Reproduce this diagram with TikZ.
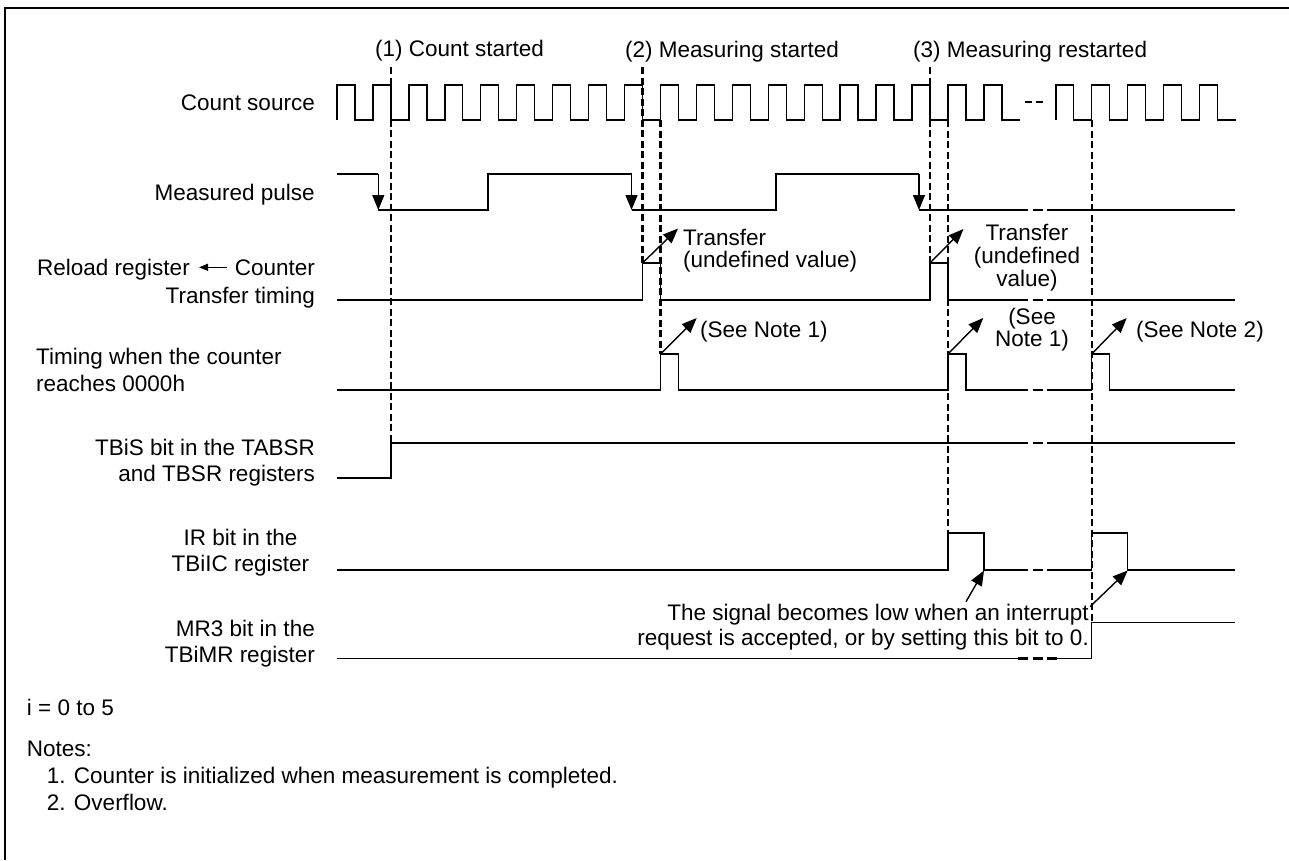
\documentclass[tikz,border=0pt]{standalone}
\usepackage{fontspec}
\setmainfont{Liberation Sans}
\usetikzlibrary{arrows.meta}
\begin{document}
\begin{tikzpicture}[x=1pt,y=-1pt,
  sig/.style={line width=1.4pt, line join=miter},
  vdash/.style={line width=2.3pt, dash pattern=on 7pt off 3.5pt},
  gapdash/.style={line width=2.6pt, dash pattern=on 10pt off 4.5pt},
  arr/.style={line width=1.4pt, -{Triangle[length=15pt,width=12pt]}},
  smallarr/.style={line width=1.3pt, -{Triangle[length=9pt,width=7pt]}},
  lbl/.style={inner sep=0pt, font=\fontsize{22.5pt}{27pt}\selectfont},
]
\def\H{17.97}
\useasboundingbox (0,0) rectangle (1289,860);
\fill[white] (0,0) rectangle (1289,860);
\draw[line width=2pt] (5,860) -- (5,8) -- (1289,8);

% ---- row labels
\node[lbl, anchor=base east] (lcs) at (315,110.5) {Count source};
\node[lbl, anchor=base east] (lmp) at (315,200.5) {Measured pulse};
\node[lbl, anchor=base east] (lrc) at (315,275.5) {Counter};
\node[lbl, anchor=base east] (lrl) at (190,275.5) {Reload register};
\coordinate (la1) at (227,267.3);
\coordinate (la2) at (199,267.3);
\draw[smallarr] (la1) -- (la2);
\node[lbl, anchor=base east] (ltt) at (315,303) {Transfer timing};
\node[lbl, anchor=base west] (ltw) at (36,364) {Timing when the counter};
\node[lbl, anchor=base west] (lrz) at (36,391.5) {reaches 0000h};
\node[lbl, anchor=base east] (lts) at (315,455) {TBiS bit in the TABSR};
\node[lbl, anchor=base east] (ltb) at (315,481.5) {and TBSR registers};
\node[lbl, anchor=base] (lir) at (240.5,545) {IR bit in the};
\node[lbl, anchor=base] (lic) at (240.5,571.7) {TBiIC register};
\node[lbl, anchor=base east] (lmr) at (315,636.7) {MR3 bit in the};
\node[lbl, anchor=base east] (lmm) at (315,662.7) {TBiMR register};

% ---- event labels
\node[lbl, anchor=base west] (e1) at (375,56.5) {(1) Count started};
\node[lbl, anchor=base west] (e2) at (625,57) {(2) Measuring started};
\node[lbl, anchor=base west] (e3) at (913,57) {(3) Measuring restarted};

% ---- count source
\draw[sig] (337,120) \foreach \k in {0,...,18}{ -- ++(0,-35) -- ++(\H,0) -- ++(0,35) -- ++(\H,0) };
\draw[sig] (1055.8,120) \foreach \k in {0,...,4}{ -- ++(0,-35) -- ++(\H,0) -- ++(0,35) -- ++(\H,0) };
\draw[line width=2.2pt, dash pattern=on 7pt off 4pt] (1025,101.7) -- (1043,101.7);

% ---- measured pulse
\draw[sig] (337,174) -- (378.3,174);
\draw[arr] (378.3,174) -- (378.3,210);
\draw[sig] (378.3,210) -- (488,210) -- (488,174) -- (631.5,174);
\draw[arr] (631.5,174) -- (631.5,210);
\draw[sig] (631.5,210) -- (776,210) -- (776,174) -- (919,174);
\draw[arr] (919,174) -- (919,210);
\draw[sig] (919,210) -- (1018,210);
\draw[gapdash] (1018,210) -- (1057,210);
\draw[sig] (1057,210) -- (1235,210);

% ---- transfer timing
\draw[sig] (337,300) -- (642.5,300) -- (642.5,263) -- (660.5,263) -- (660.5,300)
  -- (930,300) -- (930,263) -- (948,263) -- (948,300) -- (1018,300);
\draw[gapdash] (1018,300) -- (1057,300);
\draw[sig] (1057,300) -- (1235,300);

% ---- counter reaches 0000h
\draw[sig] (337,390) -- (660.5,390) -- (660.5,354) -- (678.5,354) -- (678.5,390)
  -- (948,390) -- (948,354) -- (966,354) -- (966,390) -- (1018,390);
\draw[gapdash] (1018,390) -- (1057,390);
\draw[sig] (1057,390) -- (1091.7,390) -- (1091.7,354) -- (1109.6,354) -- (1109.6,390) -- (1235,390);

% ---- TBiS
\draw[sig] (337,478) -- (391,478) -- (391,443) -- (1018,443);
\draw[gapdash] (1018,443) -- (1057,443);
\draw[sig] (1057,443) -- (1235,443);

% ---- IR
\draw[sig] (337,570) -- (948,570) -- (948,533) -- (984,533) -- (984,570) -- (1018,570);
\draw[gapdash] (1018,570) -- (1057,570);
\draw[sig] (1057,570) -- (1091.7,570) -- (1091.7,533) -- (1127.7,533) -- (1127.7,570) -- (1235,570);

% ---- MR3
\draw[sig] (337,658.5) -- (1018,658.5);
\draw[gapdash] (1018,658.5) -- (1057,658.5);
\draw[sig] (1057,658.5) -- (1091.7,658.5) -- (1091.7,622.7) -- (1235,622.7);

% ---- dashed timing lines
\draw[vdash] (390.9,67) -- (390.9,443);
\draw[vdash] (642.5,67) -- (642.5,263);
\draw[vdash] (660.5,120) -- (660.5,354);
\draw[vdash] (930,67) -- (930,263);
\draw[vdash] (948,120) -- (948,533);
\draw[vdash] (1091.7,120) -- (1091.7,622.7);

% ---- annotations
\node[lbl, anchor=base west] (t1a) at (683,245) {Transfer};
\node[lbl, anchor=base west] (t1b) at (683,267.5) {(undefined value)};
\node[lbl, anchor=base] (t2a) at (1027,240) {Transfer};
\node[lbl, anchor=base] (t2b) at (1027,263) {(undefined};
\node[lbl, anchor=base] (t2c) at (1027,286) {value)};
\node[lbl, anchor=base west] (n1) at (700,337.3) {(See Note 1)};
\node[lbl, anchor=base] (n2a) at (1032,324) {(See};
\node[lbl, anchor=base] (n2b) at (1032,346) {Note 1)};
\node[lbl, anchor=base west] (n3) at (1136,337.3) {(See Note 2)};
\node[lbl, anchor=base east] (sa) at (1089,620.7) {The signal becomes low when an interrupt};
\node[lbl, anchor=base east] (sb) at (1089,645) {request is accepted, or by setting this bit to 0.};

\coordinate (p1) at (642.5,263);  \coordinate (q1) at (678,228.5);
\coordinate (p2) at (930,263);    \coordinate (q2) at (963.5,229);
\coordinate (p3) at (660.5,354);  \coordinate (q3) at (696.7,318);
\coordinate (p4) at (948,354);    \coordinate (q4) at (983.3,318);
\coordinate (p5) at (1091.7,354); \coordinate (q5) at (1126.7,318);
\coordinate (s1) at (966,601.7);  \coordinate (r1) at (984,570.5);
\coordinate (s2) at (1090,606.7); \coordinate (r2) at (1127.7,570.5);
\draw[arr] (p1) -- (q1);
\draw[arr] (p2) -- (q2);
\draw[arr] (p3) -- (q3);
\draw[arr] (p4) -- (q4);
\draw[arr] (p5) -- (q5);
\draw[arr] (s1) -- (r1);
\draw[arr] (s2) -- (r2);

% ---- notes
\node[lbl, anchor=base west] (ni) at (26.7,715) {i = 0 to 5};
\node[lbl, anchor=base west] (nn) at (26.7,756.7) {Notes:};
\node[lbl, anchor=base west] (nn1) at (46.7,783.3) {1. Counter is initialized when measurement is completed.};
\node[lbl, anchor=base west] (nn2) at (46.7,810) {2. Overflow.};
\end{tikzpicture}
\end{document}
